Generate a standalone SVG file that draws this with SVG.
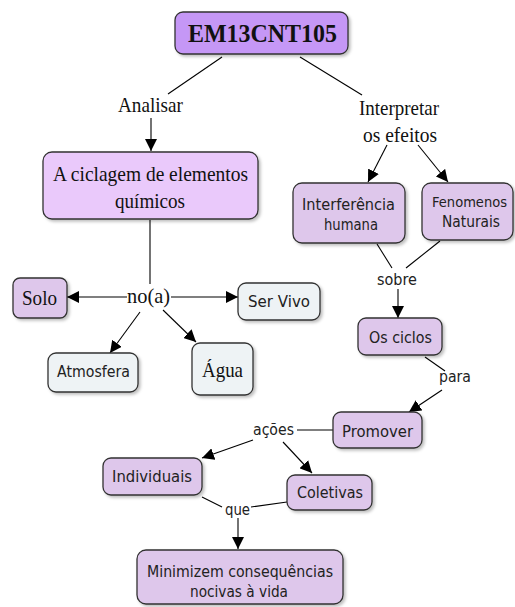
<svg xmlns="http://www.w3.org/2000/svg" width="515" height="607" viewBox="0 0 515 607">
  <defs>
    <marker id="arrow" viewBox="0 0 12 12" refX="12" refY="6" markerWidth="12" markerHeight="12" markerUnits="userSpaceOnUse" orient="auto">
      <path d="M0,0 L12,6 L0,12 z" fill="#000"/>
    </marker>
    <filter id="shadow" x="-10%" y="-10%" width="130%" height="140%">
      <feDropShadow dx="2" dy="2" stdDeviation="1.5" flood-color="#000" flood-opacity="0.25"/>
    </filter>
  </defs>
  <style>
    rect { stroke: #333; stroke-width: 1.3; filter: url(#shadow); }
    .top { fill: #c597f6; }
    .pink { fill: #eac9fb; }
    .lilac { fill: #dec7eb; }
    .pale { fill: #eef3f5; }
    .serif { font-family: "Liberation Serif", "Times New Roman", serif; fill: #111; text-anchor: middle; font-size: 21px; }
    .sans { font-family: "DejaVu Sans", Verdana, sans-serif; fill: #222; text-anchor: middle; font-size: 15.5px; }
    #connectors line { stroke: #000; stroke-width: 1.1; fill: none; }
    .arr { marker-end: url(#arrow); }
  </style>
  <rect width="515" height="607" fill="#fff" style="stroke:none;filter:none"/>

  <g id="connectors">
    <line x1="222" y1="57" x2="168" y2="94"/>
    <line x1="300" y1="57" x2="362" y2="95"/>
    <line class="arr" x1="151" y1="118" x2="151" y2="151"/>
    <line class="arr" x1="387" y1="145" x2="368" y2="182"/>
    <line class="arr" x1="418" y1="145" x2="448" y2="182"/>
    <line x1="150" y1="220" x2="150" y2="284"/>
    <line class="arr" x1="127" y1="297" x2="67" y2="297"/>
    <line class="arr" x1="171" y1="297" x2="238" y2="297"/>
    <line class="arr" x1="140" y1="312" x2="110" y2="353"/>
    <line class="arr" x1="163" y1="310" x2="196" y2="342"/>
    <line x1="377" y1="244" x2="392" y2="268"/>
    <line x1="440" y1="241" x2="406" y2="268"/>
    <line class="arr" x1="398" y1="289" x2="398" y2="318"/>
    <line x1="425" y1="357" x2="445" y2="371"/>
    <line class="arr" x1="442" y1="390" x2="409" y2="412"/>
    <line x1="333" y1="430" x2="297" y2="430"/>
    <line class="arr" x1="253" y1="440" x2="202" y2="458"/>
    <line class="arr" x1="283" y1="442" x2="312" y2="473"/>
    <line x1="202" y1="497" x2="222" y2="507"/>
    <line x1="287" y1="502" x2="251" y2="507"/>
    <line class="arr" x1="238" y1="518" x2="238" y2="549"/>
  </g>

  <!-- linking phrases -->
  <g id="labels">
    <text class="serif" x="150.5" y="112" textLength="65" lengthAdjust="spacingAndGlyphs">Analisar</text>
    <text class="serif" x="399" y="115" textLength="80" lengthAdjust="spacingAndGlyphs">Interpretar</text>
    <text class="serif" x="400" y="142" textLength="74" lengthAdjust="spacingAndGlyphs">os efeitos</text>
    <text class="serif" x="148.5" y="303" textLength="43" lengthAdjust="spacingAndGlyphs">no(a)</text>
    <text class="sans" x="397" y="285" textLength="40" lengthAdjust="spacingAndGlyphs">sobre</text>
    <text class="sans" x="455" y="382" textLength="32" lengthAdjust="spacingAndGlyphs">para</text>
    <text class="sans" x="273.5" y="435" textLength="41" lengthAdjust="spacingAndGlyphs">ações</text>
    <text class="sans" x="237.5" y="515" textLength="25" lengthAdjust="spacingAndGlyphs">que</text>
  </g>

  <g id="em13cnt105">
    <rect class="top" x="175" y="12" width="173" height="42" rx="8"/>
    <text class="serif" x="262.5" y="42" style="font-size:25px" font-weight="bold" textLength="149" lengthAdjust="spacingAndGlyphs">EM13CNT105</text>
  </g>
  <g id="ciclagem">
    <rect class="pink" x="43" y="152" width="215" height="67" rx="9"/>
    <text class="serif" x="150.5" y="181" textLength="195" lengthAdjust="spacingAndGlyphs">A ciclagem de elementos</text>
    <text class="serif" x="150" y="208" textLength="70" lengthAdjust="spacingAndGlyphs">químicos</text>
  </g>
  <g id="interferencia">
    <rect class="lilac" x="293" y="183" width="112" height="60" rx="9"/>
    <text class="sans" x="348.5" y="210" textLength="93" lengthAdjust="spacingAndGlyphs">Interferência</text>
    <text class="sans" x="351" y="230" textLength="54" lengthAdjust="spacingAndGlyphs">humana</text>
  </g>
  <g id="fenomenos">
    <rect class="lilac" x="422" y="183" width="91" height="57" rx="9"/>
    <text class="sans" x="469.5" y="207" style="font-size:14.5px" textLength="75" lengthAdjust="spacingAndGlyphs">Fenomenos</text>
    <text class="sans" x="471" y="227" textLength="58" lengthAdjust="spacingAndGlyphs">Naturais</text>
  </g>
  <g id="solo">
    <rect class="lilac" x="13" y="278" width="54" height="40" rx="7"/>
    <text class="serif" x="39.5" y="305" textLength="35" lengthAdjust="spacingAndGlyphs">Solo</text>
  </g>
  <g id="ser-vivo">
    <rect class="pale" x="238" y="283" width="82" height="37" rx="8"/>
    <text class="sans" x="279" y="307" textLength="62" lengthAdjust="spacingAndGlyphs">Ser Vivo</text>
  </g>
  <g id="atmosfera">
    <rect class="pale" x="48" y="353" width="90" height="39" rx="8"/>
    <text class="sans" x="93.5" y="377" textLength="73" lengthAdjust="spacingAndGlyphs">Atmosfera</text>
  </g>
  <g id="agua">
    <rect class="pale" x="192" y="343" width="61" height="52" rx="8"/>
    <text class="serif" x="222.5" y="377" textLength="41" lengthAdjust="spacingAndGlyphs">Água</text>
  </g>
  <g id="os-ciclos">
    <rect class="lilac" x="358" y="318" width="84" height="37" rx="8"/>
    <text class="sans" x="400.5" y="343" textLength="63" lengthAdjust="spacingAndGlyphs">Os ciclos</text>
  </g>
  <g id="promover">
    <rect class="lilac" x="333" y="412" width="89" height="36" rx="8"/>
    <text class="sans" x="377.5" y="437" textLength="71" lengthAdjust="spacingAndGlyphs">Promover</text>
  </g>
  <g id="individuais">
    <rect class="lilac" x="103" y="458" width="99" height="37" rx="8"/>
    <text class="sans" x="152" y="482" textLength="80" lengthAdjust="spacingAndGlyphs">Individuais</text>
  </g>
  <g id="coletivas">
    <rect class="lilac" x="287" y="475" width="85" height="35" rx="8"/>
    <text class="sans" x="330" y="498" textLength="66" lengthAdjust="spacingAndGlyphs">Coletivas</text>
  </g>
  <g id="minimizem">
    <rect class="lilac" x="137" y="550" width="206" height="54" rx="9"/>
    <text class="sans" x="240" y="577" textLength="186" lengthAdjust="spacingAndGlyphs">Minimizem consequências</text>
    <text class="sans" x="239" y="597" textLength="98" lengthAdjust="spacingAndGlyphs">nocivas à vida</text>
  </g>
</svg>
